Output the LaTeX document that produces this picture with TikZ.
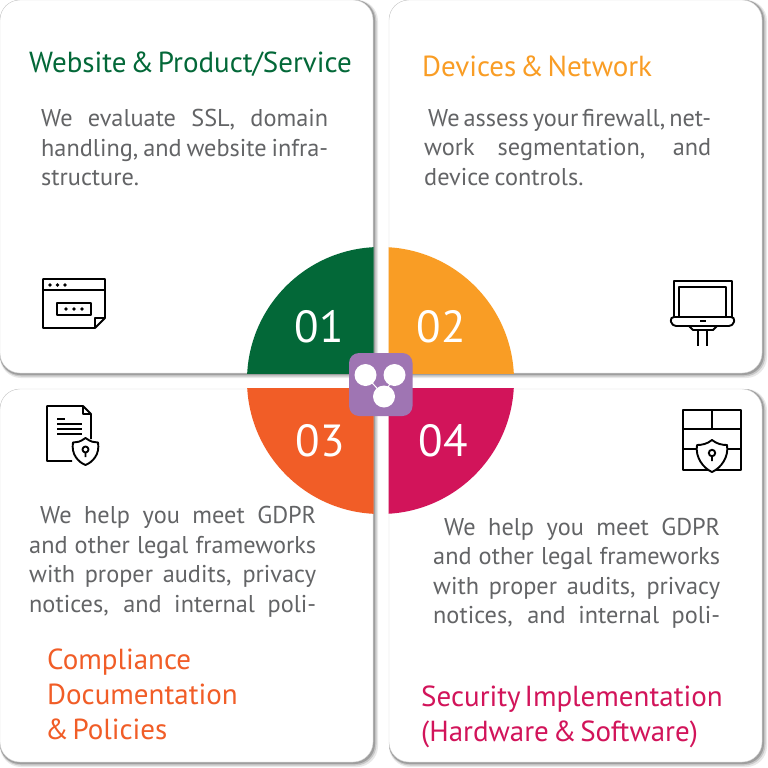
\documentclass[tikz,border=0pt]{standalone}
\usepackage{fontspec}
\setmainfont[WordSpace=0.72]{PT Sans}
\newfontfamily\titlefont[WordSpace=0.5]{PT Sans}
\definecolor{cgreen}{HTML}{036838}
\definecolor{corange}{HTML}{F99D25}
\definecolor{cred}{HTML}{F15D27}
\definecolor{cpink}{HTML}{D2145A}
\definecolor{cpurple}{HTML}{9F75B3}
\definecolor{ctext}{HTML}{636466}
\newcommand{\jl}[2]{\makebox[#1pt][s]{#2}}
\newcommand{\shadowcard}[4]{%
  \fill[rounded corners=21pt,black!9]  (#1,#2) rectangle (#3+5,#4+5);
  \fill[rounded corners=21pt,black!22] (#1,#2) rectangle (#3+3.5,#4+3.5);
  \fill[rounded corners=20pt,black!38] (#1,#2) rectangle (#3+2,#4+2);
  \draw[cardbox] (#1,#2) rectangle (#3,#4);
}
\tikzset{
  x=1pt,y=-1pt,
  cardbox/.style={fill=white,draw=black!18,line width=0.4pt,rounded corners=20pt},
  titletext/.style={inner sep=0pt,anchor=base west,font=\titlefont\fontsize{29}{35}\selectfont,align=left},
  bodytext/.style={inner sep=0pt,anchor=north west,text=ctext,font=\fontsize{24.3}{29.5}\selectfont,align=left},
  numtext/.style={inner sep=0pt,text=white,font=\fontsize{45}{45}\selectfont},
  iconline/.style={draw=black,line width=1.9pt,line join=round},
  hubdot/.style={circle,fill=white,inner sep=0pt,minimum size=22pt},
}
\begin{document}
\begin{tikzpicture}
\useasboundingbox (0,0) rectangle (768,768);
\fill[white] (0,0) rectangle (768,768);
% cards
\shadowcard{0}{0}{373}{373}
\shadowcard{389}{0}{762}{373}
\shadowcard{0}{389}{373}{762}
\shadowcard{389}{389}{762}{762}
% quarter discs
\begin{scope}\clip (240,240) rectangle (373.5,373);
\fill[cgreen] (380.5,380.5) circle[radius=133.5];\end{scope}
\begin{scope}\clip (388.5,240) rectangle (520,373);
\fill[corange] (380.5,380.5) circle[radius=133.5];\end{scope}
\begin{scope}\clip (240,388.5) rectangle (373.5,520);
\fill[cred] (380.5,380.5) circle[radius=133.5];\end{scope}
\begin{scope}\clip (388.5,388.5) rectangle (520,520);
\fill[cpink] (380.5,380.5) circle[radius=133.5];\end{scope}
\node[numtext] (n1) at (319,326.5) {01};
\node[numtext] (n2) at (441,326.5) {02};
\node[numtext] (n3) at (320,441) {03};
\node[numtext] (n4) at (443,441) {04};
% hub
\fill[cpurple,rounded corners=10pt] (349,353) rectangle (412.5,416);
\draw[white,line width=1pt] (365,375) -- (384,396) -- (394,375);
\node[hubdot] (h1) at (365.5,375) {};
\node[hubdot] (h2) at (394.5,375) {};
\node[hubdot] (h3) at (384,396.5) {};
% titles
\node[titletext,text=cgreen] (t1) at (29,72) {Website \& Product/Service};
\node[titletext,text=corange] (t2) at (422,76) {Devices \& Network};
\node[titletext,text=cred] (t3) at (47,739) {Compliance\\[0pt]Documentation\\[0pt]\hspace*{-2pt}\& Policies};
\node[titletext,text=cpink] (t4) at (421,741) {Security Implementation\\[0pt](Hardware \& Software)};
% body
\node[bodytext] (b1) at (41,109) {\jl{287}{We evaluate SSL, domain}\\\jl{287}{handling, and website infra-}\\structure.};
\node[bodytext] (b2) at (424,109) {\hspace*{4pt}\jl{283}{We assess your firewall, net-}\\\jl{287}{work segmentation, and}\\device controls.};
\node[bodytext] (b3) at (29,506) {\hspace*{11pt}\jl{276}{We help you meet GDPR}\\\jl{287}{and other legal frameworks}\\\jl{287}{with proper audits, privacy}\\\jl{287}{notices, and internal poli-}};
\node[bodytext] (b4) at (433,517.5) {\hspace*{11pt}\jl{276}{We help you meet GDPR}\\\jl{287}{and other legal frameworks}\\\jl{287}{with proper audits, privacy}\\\jl{287}{notices, and internal poli-}};
% icon: browser
\draw[iconline] (95,328) -- (43,328) -- (43,279) -- (105,279) -- (105,318) -- cycle;
\draw[iconline] (43,290) -- (105,290);
\draw[iconline] (95,328) -- (95,318) -- (105,318);
\draw[iconline] (57,303) rectangle (91,315);
\foreach \px in {50,57.5,65} \fill (\px,285) circle[radius=1.9];
\foreach \px in {66,74,82} \fill (\px,309) circle[radius=1.9];
% icon: laptop
\draw[iconline] (674,317) -- (674,281) -- (732,281) -- (732,317);
\draw[iconline] (679,317) -- (679,287) -- (726,287) -- (726,317);
\draw[iconline,rounded corners=4pt] (670,317) -- (735,317) -- (733,326) -- (672,326) -- cycle;
\draw[iconline] (689,326) -- (693,330) -- (713,330) -- (717,326);
\draw[iconline] (698,330) -- (698,346) (707,330) -- (707,346);
\draw[black,line width=1.9pt] (700,321) -- (706,321);
% icon: document
\draw[iconline] (72,461) -- (47,461) -- (47,406) -- (83,406) -- (91,414) -- (91,439);
\draw[iconline] (83,406) -- (83,414) -- (91,414);
\draw[iconline] (57,419) -- (65,419);
\foreach \py in {424,429,434} \draw[iconline] (57,\py) -- (82,\py);
\draw[iconline,fill=white] (85.5,438) .. controls (80,442) and (77,442.5) .. (73,442.5) .. controls (71,454) and (78,462) .. (85.5,465) .. controls (93,462) and (100,454) .. (98,442.5) .. controls (94,442.5) and (91,442) .. (85.5,438) -- cycle;
\draw[iconline] (85.5,449.5) circle[radius=3] (85.5,452.5) -- (85.5,457);
% icon: wall
\draw[iconline] (683,410) rectangle (741,470);
\draw[iconline] (683,429) -- (741,429) (683,449) -- (741,449) (712,410) -- (712,429);
\draw[iconline,fill=white] (712,440) .. controls (707,444) and (702,445) .. (697,445) .. controls (695,457) and (703,468) .. (712,472) .. controls (721,468) and (729,457) .. (727,445) .. controls (722,445) and (717,444) .. (712,440) -- cycle;
\draw[iconline] (712,453) circle[radius=3.2] (712,456) -- (712,461);
\end{tikzpicture}
\end{document}
